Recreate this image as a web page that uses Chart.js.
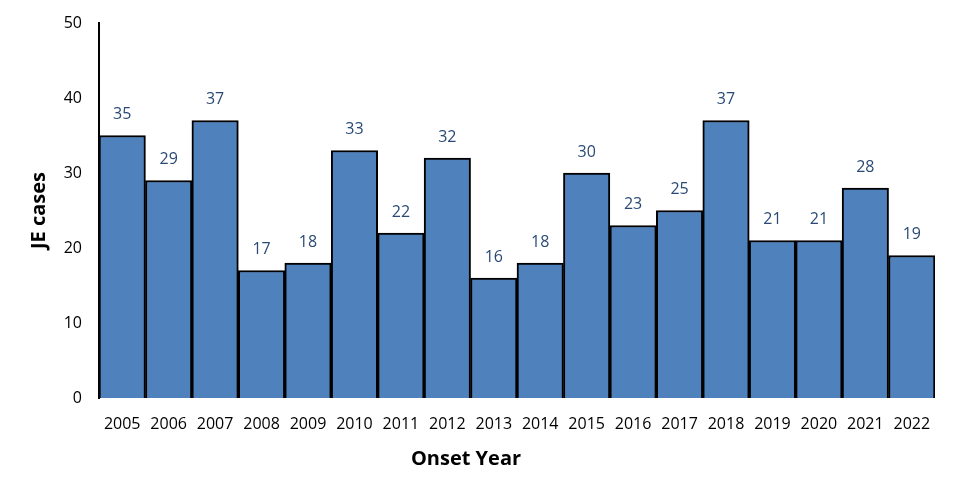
<!DOCTYPE html>
<html>
<head>
<meta charset="utf-8">
<script src="https://cdn.jsdelivr.net/npm/chart.js@4.4.1/dist/chart.umd.min.js"></script>
<style>
    html, body { margin: 0; padding: 0; background: #ffffff; }
    #wrap { width: 957px; height: 496px; }
</style>
</head>
<body>
<div id="wrap"><canvas id="jeChart" width="957" height="496"></canvas></div>
<script>
// Data
const years = ["2005", "2006", "2007", "2008", "2009", "2010", "2011", "2012", "2013",
               "2014", "2015", "2016", "2017", "2018", "2019", "2020", "2021", "2022"];
const cases = [35, 29, 37, 17, 18, 33, 22, 32, 16, 18, 30, 23, 25, 37, 21, 21, 28, 19];
const yTicks = [0, 10, 20, 30, 40, 50];
const xTitle = "Onset Year";

const FONT = "'Open Sans', 'Liberation Sans', sans-serif";

// Value labels above each bar, plus the x-axis title (sits left of centre in the original)
const barLabels = {
    id: "barLabels",
    afterDatasetsDraw(chart) {
        const ctx = chart.ctx;
        const meta = chart.getDatasetMeta(0);
        ctx.save();
        ctx.font = "16px " + FONT;
        ctx.fillStyle = "#2a4a75";
        ctx.textAlign = "center";
        ctx.textBaseline = "middle";
        meta.data.forEach((bar, i) => {
            ctx.fillText(String(cases[i]), bar.x, bar.y - 21);
        });
        ctx.restore();
    },
    afterDraw(chart) {
        const ctx = chart.ctx;
        const xs = chart.scales.x;
        ctx.save();
        ctx.font = "bold 20px " + FONT;
        ctx.fillStyle = "#000000";
        ctx.textAlign = "center";
        ctx.textBaseline = "middle";
        ctx.fillText(xTitle, xs.left + (xs.right - xs.left) * 0.439, xs.bottom - 37);
        ctx.restore();
    }
};

const ctx = document.getElementById("jeChart").getContext("2d");
new Chart(ctx, {
    type: "bar",
    data: {
        labels: years,
        datasets: [{
            label: "JE cases",
            data: cases,
            backgroundColor: "#4f81bd",
            borderColor: "#000000",
            borderWidth: 2,
            barPercentage: 1,
            categoryPercentage: 1
        }]
    },
    options: {
        responsive: false,
        animation: false,
        layout: { padding: { top: 23, right: 22, left: 0, bottom: 0 } },
        plugins: {
            legend: { display: false },
            tooltip: { enabled: false }
        },
        scales: {
            x: {
                grid: { display: false, drawTicks: false },
                border: { display: false },
                ticks: {
                    color: "#000000",
                    font: { family: FONT, size: 16 },
                    padding: 17,
                    maxRotation: 0,
                    autoSkip: false
                },
                title: { display: false },
                afterFit: s => { s.height = 98; }
            },
            y: {
                min: 0,
                max: 50,
                afterBuildTicks: s => { s.ticks = yTicks.map(v => ({ value: v })); },
                grid: { display: false, drawTicks: false },
                border: { display: true, color: "#000000", width: 2 },
                ticks: {
                    color: "#000000",
                    font: { family: FONT, size: 16 },
                    padding: 17
                },
                title: {
                    display: true,
                    text: "JE cases",
                    color: "#000000",
                    font: { family: FONT, size: 20, weight: "bold" },
                    padding: { top: 27, bottom: 0 }
                },
                afterFit: s => {
                    s.width = 99;
                    s.paddingTop = 0;
                    s.paddingBottom = 0;
                }
            }
        }
    },
    plugins: [barLabels]
});
</script>
</body>
</html>
